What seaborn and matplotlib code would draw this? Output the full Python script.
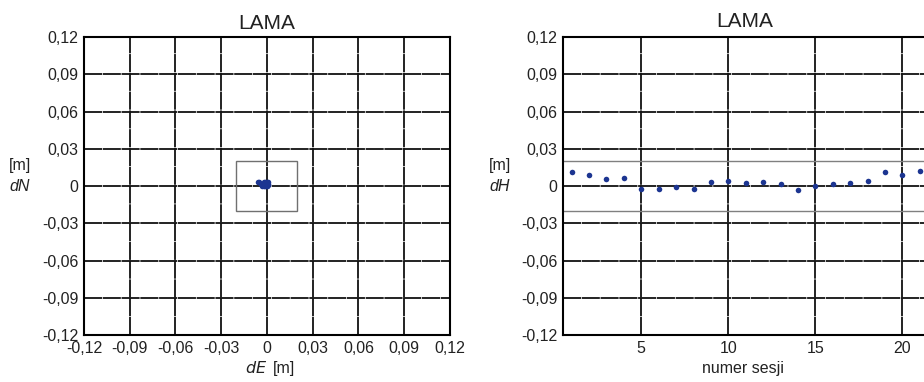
import matplotlib
matplotlib.use("Agg")
import matplotlib.pyplot as plt
import seaborn as sns
import pandas as pd
from matplotlib.patches import Rectangle

# Horizontal offsets of the station LAMA per session [m]
dE = [-0.006, -0.005, -0.003, -0.002, -0.002, -0.001, -0.001, 0.000, 0.000, 0.001, 0.001,
      -0.003, -0.002, -0.001, 0.000, 0.001, -0.004, -0.002, 0.000, -0.001, 0.000]
dN = [0.003, 0.003, 0.001, 0.002, 0.000, 0.001, 0.003, 0.002, 0.000, 0.001, 0.003,
      0.000, 0.001, 0.000, 0.001, 0.002, 0.002, 0.003, 0.003, 0.002, 0.000]

# Height offsets per session [m]
sessions = list(range(1, 22))
dH = [0.011, 0.009, 0.0054, 0.0064, -0.0024, -0.0024, -0.0008, -0.0024, 0.0032, 0.0043,
      0.0021, 0.0035, 0.0013, -0.0035, 0.0000, 0.0013, 0.0021, 0.0043, 0.011, 0.0089, 0.0118]

tolerance = 0.02
ticks = [-0.12, -0.09, -0.06, -0.03, 0.0, 0.03, 0.06, 0.09, 0.12]
tick_labels = ["-0,12", "-0,09", "-0,06", "-0,03", "0", "0,03", "0,06", "0,09", "0,12"]
session_ticks = [5, 10, 15, 20]
station = "LAMA"

sns.set_style("white")
plt.rcParams["font.family"] = ["Liberation Sans", "DejaVu Sans"]

FS = 11.5
TITLE_FS = 15
point_color = "#1c3591"
grid_kw = dict(color="#111111", linewidth=1.3, linestyle=(0, (10, 0.4)))

fig = plt.figure(figsize=(9.24, 3.82), dpi=100)
ax1 = fig.add_axes([0.0909, 0.123, 0.396, 0.780])
ax2 = fig.add_axes([0.6093, 0.123, 0.452, 0.780])


def style_axes(ax):
    ax.set_ylim(-0.12, 0.12)
    ax.set_yticks(ticks)
    ax.set_yticklabels(tick_labels)
    ax.tick_params(axis="both", length=0, pad=4, labelsize=FS, colors="#222222")
    ax.grid(True, **grid_kw)
    ax.set_axisbelow(True)
    for sp in ax.spines.values():
        sp.set_color("black")
        sp.set_linewidth(1.5)
    ax.set_xlabel("")
    ax.set_ylabel("")


def side_label(ax, x, name):
    ax.text(x, 0.57, "[m]", transform=ax.transAxes, ha="center", va="center",
            fontsize=FS, color="#222222")
    ax.text(x, 0.50, name, transform=ax.transAxes, ha="center", va="center",
            fontsize=FS, style="italic", color="#222222")


# Left panel: horizontal position scatter
df_h = pd.DataFrame({"dE": dE, "dN": dN})
ax1.add_patch(Rectangle((-tolerance, -tolerance), 2 * tolerance, 2 * tolerance,
                        fill=False, edgecolor="#707070", linewidth=1.0, zorder=2))
sns.scatterplot(data=df_h, x="dE", y="dN", ax=ax1, color=point_color, s=16,
                edgecolor=point_color, linewidth=0, zorder=3, legend=False)
style_axes(ax1)
ax1.set_xlim(-0.12, 0.12)
ax1.set_xticks(ticks)
ax1.set_xticklabels(tick_labels)
ax1.set_title(station, fontsize=TITLE_FS, pad=6, color="#222222")
ax1.text(0.5, -0.112, r"$dE$", transform=ax1.transAxes, ha="right", va="center",
         fontsize=FS, color="#222222")
ax1.text(0.515, -0.112, "[m]", transform=ax1.transAxes, ha="left", va="center",
         fontsize=FS, color="#222222")
side_label(ax1, -0.175, "dN")

# Right panel: height per session
df_v = pd.DataFrame({"session": sessions, "dH": dH})
for lvl in (tolerance, -tolerance):
    ax2.axhline(lvl, color="#808080", linewidth=1.0, zorder=2)
sns.scatterplot(data=df_v, x="session", y="dH", ax=ax2, color=point_color, s=16,
                edgecolor=point_color, linewidth=0, zorder=3, legend=False)
style_axes(ax2)
ax2.set_xlim(0.5, 24.5)
ax2.set_xticks(session_ticks)
ax2.set_xticklabels([str(t) for t in session_ticks])
ax2.text(0.43, -0.112, "numer sesji", transform=ax2.transAxes, ha="center",
         va="center", fontsize=FS, color="#222222")
ax2.text(0.435, 1.0 + 6 / 298, station, transform=ax2.transAxes,
         ha="center", va="bottom", fontsize=TITLE_FS, color="#222222")
side_label(ax2, -0.151, "dH")

fig.savefig("out.png", dpi=100)
